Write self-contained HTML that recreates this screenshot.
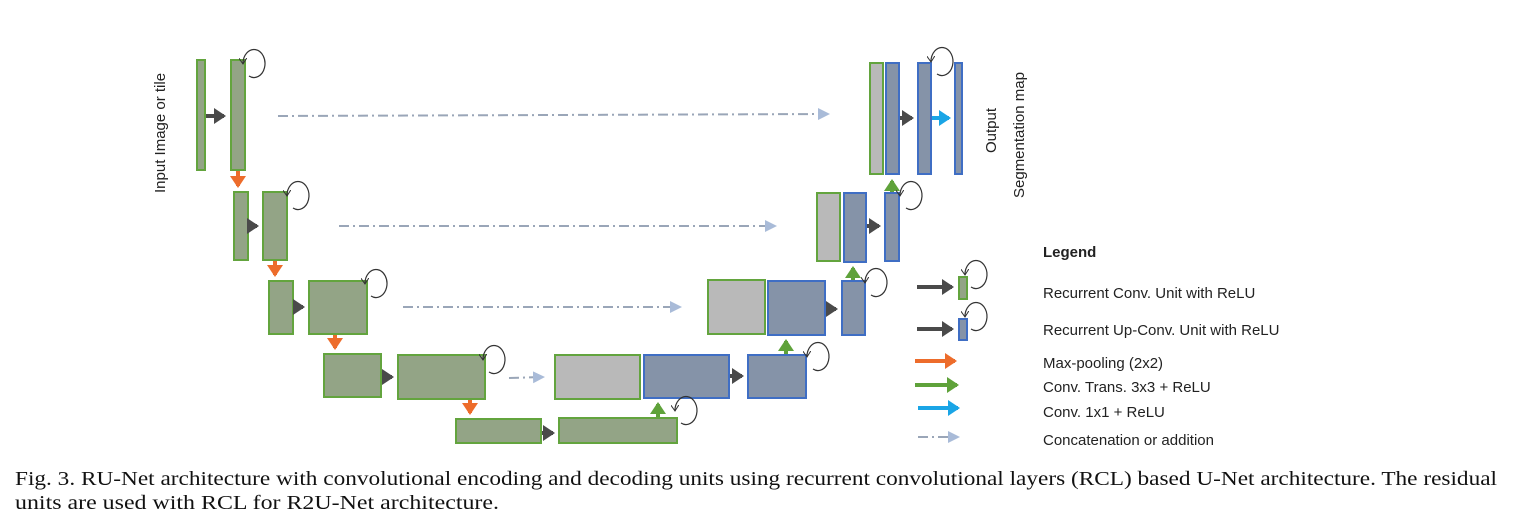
<!DOCTYPE html>
<html><head><style>body{margin:0;background:#fff}svg{display:block}</style></head><body>
<svg width="1513" height="530" xmlns="http://www.w3.org/2000/svg" font-family="Liberation Sans, sans-serif">
<defs>
<marker id="md" markerWidth="4" markerHeight="4" refX="2.5" refY="2" orient="auto" markerUnits="strokeWidth"><path d="M0,0L3,2L0,4z" fill="#4a4a4a"/></marker>
<marker id="mo" markerWidth="4" markerHeight="4" refX="2.5" refY="2" orient="auto" markerUnits="strokeWidth"><path d="M0,0L3,2L0,4z" fill="#ed6c2b"/></marker>
<marker id="mg" markerWidth="4" markerHeight="4" refX="2.5" refY="2" orient="auto" markerUnits="strokeWidth"><path d="M0,0L3,2L0,4z" fill="#5fa23a"/></marker>
<marker id="mb" markerWidth="4" markerHeight="4" refX="2.5" refY="2" orient="auto" markerUnits="strokeWidth"><path d="M0,0L3,2L0,4z" fill="#1aa5e6"/></marker>
<marker id="ms" markerWidth="12" markerHeight="12" refX="10" refY="6" orient="auto" markerUnits="userSpaceOnUse"><path d="M0,0L12,6L0,12z" fill="#a9bbd8"/></marker>
<marker id="mk" markerWidth="8" markerHeight="8" refX="6" refY="4" orient="auto" markerUnits="userSpaceOnUse"><path d="M0,0L6,4L0,8" fill="none" stroke="#333" stroke-width="1"/></marker>
<g id="lp"><path d="M6,12 A11,14 0 1 0 0,0" fill="none" stroke="#333" stroke-width="1.2" marker-end="url(#mk)"/></g>
</defs>
<g stroke-width="2">
<g fill="#93a486" stroke="#63a43e">
<rect x="197" y="60" width="8" height="110"/><rect x="231" y="60" width="14" height="110"/>
<rect x="234" y="192" width="14" height="68"/><rect x="263" y="192" width="24" height="68"/>
<rect x="269" y="281" width="24" height="53"/><rect x="309" y="281" width="58" height="53"/>
<rect x="324" y="354" width="57" height="43"/><rect x="398" y="355" width="87" height="44"/>
<rect x="456" y="419" width="85" height="24"/><rect x="559" y="418" width="118" height="25"/>
<rect x="959" y="277" width="8" height="22"/>
</g>
<g fill="#b9b9b9" stroke="#63a43e">
<rect x="555" y="355" width="85" height="44"/><rect x="708" y="280" width="57" height="54"/>
<rect x="817" y="193" width="23" height="68"/><rect x="870" y="63" width="13" height="111"/>
</g>
<g fill="#8593a8" stroke="#3f6ec4">
<rect x="644" y="355" width="85" height="43"/><rect x="748" y="355" width="58" height="43"/>
<rect x="768" y="281" width="57" height="54"/><rect x="842" y="281" width="23" height="54"/>
<rect x="844" y="193" width="22" height="69"/><rect x="885" y="193" width="14" height="68"/>
<rect x="886" y="63" width="13" height="111"/><rect x="918" y="63" width="13" height="111"/><rect x="955" y="63" width="7" height="111"/>
<rect x="959" y="319" width="8" height="21"/>
</g>
</g>
<g stroke="#4a4a4a" stroke-width="4" marker-end="url(#md)">
<line x1="206" y1="116" x2="224" y2="116"/><line x1="249" y1="226" x2="257" y2="226"/>
<line x1="294" y1="307" x2="303" y2="307"/><line x1="382" y1="377" x2="392" y2="377"/>
<line x1="542" y1="433" x2="553" y2="433"/><line x1="730" y1="376" x2="742" y2="376"/>
<line x1="826" y1="309" x2="836" y2="309"/><line x1="867" y1="226" x2="879" y2="226"/>
<line x1="900" y1="118" x2="912" y2="118"/>
<line x1="917" y1="287" x2="952" y2="287"/><line x1="917" y1="329" x2="952" y2="329"/>
</g>
<g stroke="#ed6c2b" stroke-width="4" marker-end="url(#mo)">
<line x1="238" y1="171" x2="238" y2="186"/><line x1="275" y1="261" x2="275" y2="275"/>
<line x1="335" y1="335" x2="335" y2="348"/><line x1="470" y1="400" x2="470" y2="413"/>
<line x1="915" y1="361" x2="955" y2="361"/>
</g>
<g stroke="#5fa23a" stroke-width="4" marker-end="url(#mg)">
<line x1="658" y1="417" x2="658" y2="404"/><line x1="786" y1="354" x2="786" y2="341"/>
<line x1="853" y1="280" x2="853" y2="268"/><line x1="892" y1="192" x2="892" y2="181"/>
<line x1="915" y1="385" x2="957" y2="385"/>
</g>
<g stroke="#1aa5e6" stroke-width="4" marker-end="url(#mb)">
<line x1="932" y1="118" x2="949" y2="118"/><line x1="918" y1="408" x2="958" y2="408"/>
</g>
<g stroke="#9aa6b8" stroke-width="2" stroke-dasharray="10,4,2,4" marker-end="url(#ms)">
<line x1="278" y1="116" x2="828" y2="114"/><line x1="339" y1="226" x2="775" y2="226"/>
<line x1="403" y1="307" x2="680" y2="307"/><line x1="509" y1="378" x2="543" y2="377"/>
<line x1="918" y1="437" x2="958" y2="437"/>
</g>
<g transform="translate(3,6)">
<use href="#lp" x="240" y="58"/><use href="#lp" x="284" y="190"/><use href="#lp" x="362" y="278"/>
<use href="#lp" x="480" y="354"/><use href="#lp" x="672" y="405"/><use href="#lp" x="804" y="351"/>
<use href="#lp" x="862" y="277"/><use href="#lp" x="897" y="190"/><use href="#lp" x="928" y="56"/>
<use href="#lp" x="962" y="269"/><use href="#lp" x="962" y="311"/>
</g>
<text transform="translate(165,193) rotate(-90)" font-size="15" fill="#222">Input Image or tile</text>
<text transform="translate(996,153) rotate(-90)" font-size="15" fill="#222">Output</text>
<text transform="translate(1024,198) rotate(-90)" font-size="15" fill="#222">Segmentation map</text>
<g font-size="15" fill="#222">
<text x="1043" y="257" font-weight="bold">Legend</text>
<text x="1043" y="298">Recurrent Conv. Unit with ReLU</text>
<text x="1043" y="335">Recurrent Up-Conv. Unit with ReLU</text>
<text x="1043" y="368">Max-pooling (2x2)</text>
<text x="1043" y="392">Conv.  Trans. 3x3 + ReLU</text>
<text x="1043" y="417">Conv. 1x1 + ReLU</text>
<text x="1043" y="445">Concatenation or addition</text>
</g>
<g font-family="Liberation Serif, serif" font-size="20" fill="#111">
<text x="15" y="485" textLength="1482" lengthAdjust="spacingAndGlyphs">Fig. 3. RU-Net architecture with convolutional encoding and decoding units using recurrent convolutional layers (RCL) based U-Net architecture. The residual</text>
<text x="15" y="509" textLength="484" lengthAdjust="spacingAndGlyphs">units are used with RCL for R2U-Net architecture.</text>
</g>
</svg>
</body></html>
